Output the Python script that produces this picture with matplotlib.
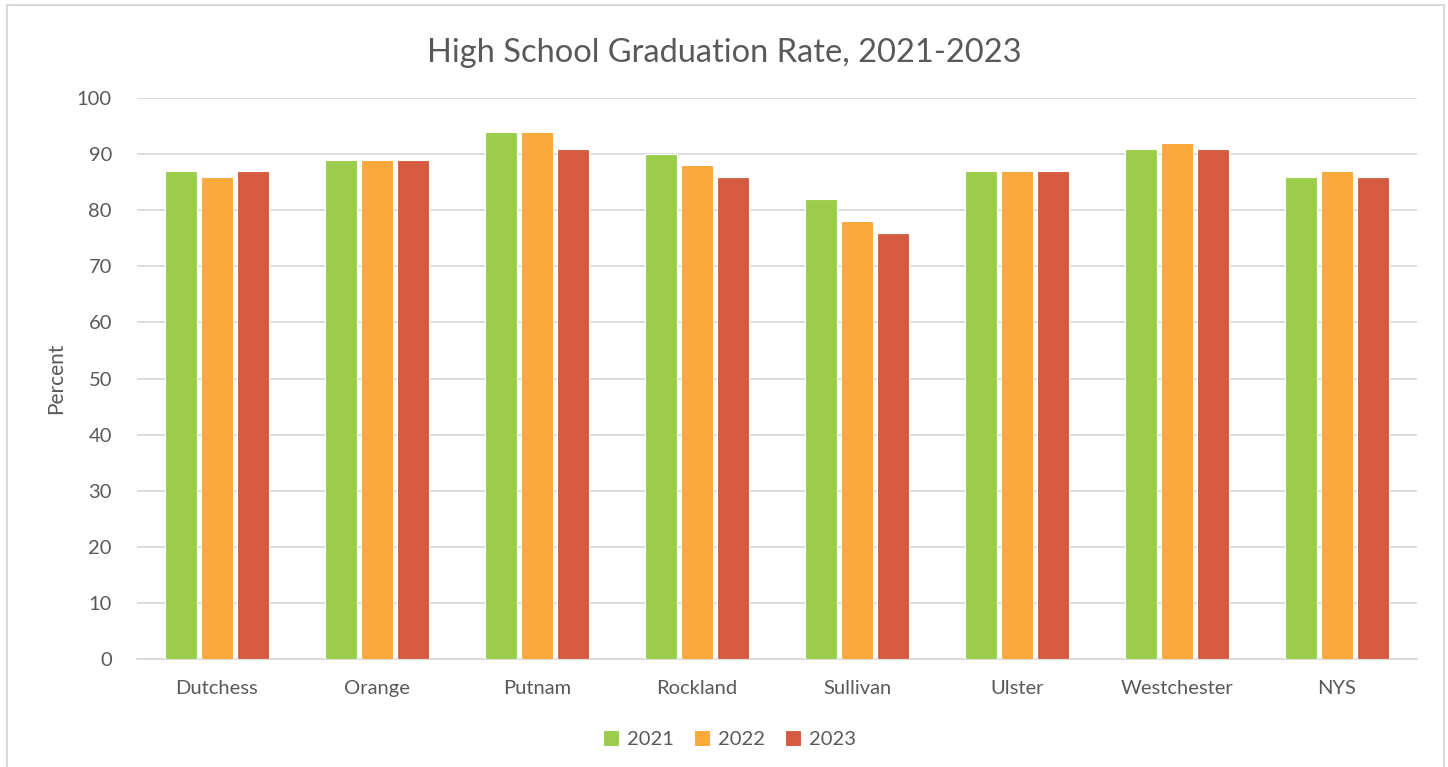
import numpy as np
import matplotlib.pyplot as plt
from matplotlib.patches import Rectangle

plt.rcParams['font.family'] = ['Lato', 'DejaVu Sans']

counties = ['Dutchess', 'Orange', 'Putnam', 'Rockland', 'Sullivan', 'Ulster', 'Westchester', 'NYS']
rate_2021 = [87, 89, 94, 90, 82, 87, 91, 86]
rate_2022 = [86, 89, 94, 88, 78, 87, 92, 87]
rate_2023 = [87, 89, 91, 86, 76, 87, 91, 86]
years = ['2021', '2022', '2023']
colors = ['#9BCD4B', '#F9A83A', '#D45B40']

fig = plt.figure(figsize=(14.48, 7.67), dpi=100)
ax = fig.add_axes([0.0946, 0.1408, 0.884, 0.7314])

x = np.arange(len(counties))
w = 0.2
step = 0.225
for i, (vals, lab, c) in enumerate(zip([rate_2021, rate_2022, rate_2023], years, colors)):
    ax.bar(x + (i - 1) * step, vals, width=w, color=c, edgecolor='white', linewidth=0.8,
           label=lab, zorder=3)

ax.set_xlim(-0.5, len(counties) - 0.5)
ax.set_ylim(0, 100)
ax.set_yticks(range(0, 101, 10))
ax.set_xticks(x)
ax.set_xticklabels(counties)
ax.grid(axis='y', color='#D9D9D9', linewidth=1.3, zorder=0)
for s in ['top', 'right', 'left']:
    ax.spines[s].set_visible(False)
ax.spines['bottom'].set_color('#D9D9D9')
ax.spines['bottom'].set_linewidth(1.3)
ax.tick_params(axis='both', length=0, labelsize=14.5, colors='#595959')
ax.tick_params(axis='x', pad=15)
ax.tick_params(axis='y', pad=18)
ax.set_ylabel('Percent', fontsize=15, color='#595959', labelpad=8)

fig.suptitle('High School Graduation Rate, 2021-2023', y=0.95, fontsize=23.5, color='#595959')

ax.legend(loc='upper center', bbox_to_anchor=(0.463, -0.095), ncol=3, frameon=False,
          fontsize=14.5, labelcolor='#595959', handlelength=0.8, handleheight=0.8,
          handletextpad=0.4, columnspacing=1.0)

fig.patches.append(Rectangle((0.005, -0.01), 0.992, 1.003, transform=fig.transFigure,
                             fill=False, edgecolor='#D9D9D9', linewidth=1.5))

fig.savefig('out.png', dpi=100)
